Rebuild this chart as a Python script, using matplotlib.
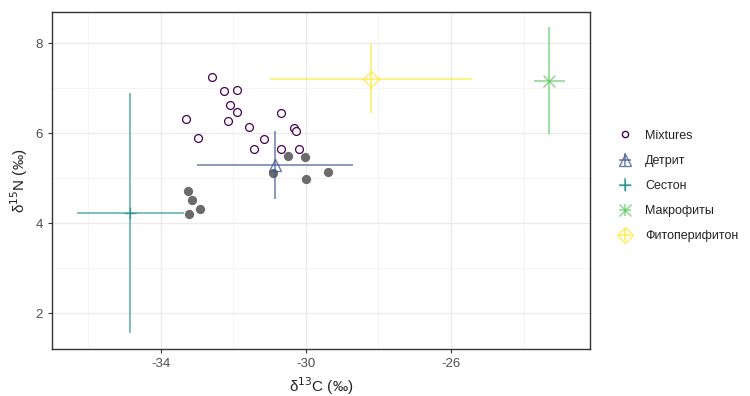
import matplotlib.pyplot as plt
from matplotlib.lines import Line2D

plt.rcParams['font.family'] = ['Liberation Sans', 'DejaVu Sans']
plt.rcParams['axes.unicode_minus'] = False

# Mixtures (open circles)
mix_x = [-32.60, -32.26, -31.90, -32.08, -31.90, -33.31, -32.14, -30.69,
         -31.56, -32.97, -30.33, -30.28, -31.16, -31.43, -30.69, -30.20]
mix_y = [7.24, 6.93, 6.96, 6.62, 6.47, 6.32, 6.27, 6.44,
         6.13, 5.90, 6.11, 6.04, 5.87, 5.65, 5.65, 5.65]

# grey filled points
grey_x = [-30.48, -30.03, -30.91, -29.99, -29.40, -33.24, -33.13, -32.91, -33.22]
grey_y = [5.50, 5.47, 5.11, 4.98, 5.13, 4.71, 4.51, 4.31, 4.19]

# sources: mean and sd
sources = ["Детрит", "Сестон", "Макрофиты", "Фитоперифитон"]
src_x = [-30.85, -34.84, -23.29, -28.21]
src_y = [5.29, 4.22, 7.16, 7.21]
src_xsd = [2.14, 1.47, 0.43, 2.78]
src_ysd = [0.76, 2.66, 1.19, 0.77]
src_col = ["#3B528B", "#21908C", "#5DC863", "#FDE725"]
src_mark = ["^", "+", "x", "D"]

fig = plt.figure(figsize=(7.5, 3.96), dpi=100)
ax = fig.add_axes([0.0693, 0.1187, 0.7173, 0.851])

ax.set_xlim(-37.0, -22.17)
ax.set_ylim(1.2, 8.69)
ax.set_xticks([-34, -30, -26])
ax.set_yticks([2, 4, 6, 8])
ax.set_xticks([-36, -32, -28, -24], minor=True)
ax.set_yticks([3, 5, 7], minor=True)
ax.grid(True, which='major', color='#ebebeb', linewidth=1.0, zorder=0)
ax.grid(True, which='minor', color='#f2f2f2', linewidth=0.6, zorder=0)
ax.set_axisbelow(True)
ax.tick_params(which='minor', length=0)
ax.tick_params(which='major', length=3, color='#333333', labelsize=9.5,
               labelcolor='#4d4d4d', width=0.8)
for s in ax.spines.values():
    s.set_color('#333333')
    s.set_linewidth(1.0)

ax.scatter(grey_x, grey_y, s=32, color='#6b6b6b', edgecolors='#6b6b6b', zorder=3)
ax.scatter(mix_x, mix_y, s=32, facecolors='white', edgecolors='#440154',
           linewidths=0.9, zorder=3, label='Mixtures')

handles = [Line2D([], [], linestyle='none', marker='o', markersize=4.5,
                  markerfacecolor='white', markeredgecolor='#440154', label='Mixtures')]
for i in range(len(sources)):
    eb = ax.errorbar(src_x[i], src_y[i], xerr=src_xsd[i], yerr=src_ysd[i],
                     color=src_col[i], ecolor=src_col[i], elinewidth=1.1,
                     capsize=0, marker=src_mark[i], markersize=8,
                     markerfacecolor='none', markeredgecolor=src_col[i],
                     linestyle='none', alpha=0.75, zorder=4, label=sources[i])
    handles.append(eb)

ax.set_xlabel("δ$^{13}$C (‰)", fontsize=11, color='#222222', labelpad=4)
ax.set_ylabel("δ$^{15}$N (‰)", fontsize=11, color='#222222', labelpad=4)

leg = fig.legend(handles=handles, loc='center left', bbox_to_anchor=(0.805, 0.53),
                 frameon=False, fontsize=9, labelspacing=1.05, handlelength=1.6,
                 handletextpad=0.8)
for t in leg.get_texts():
    t.set_color('#222222')

fig.savefig("out.png", dpi=100)
